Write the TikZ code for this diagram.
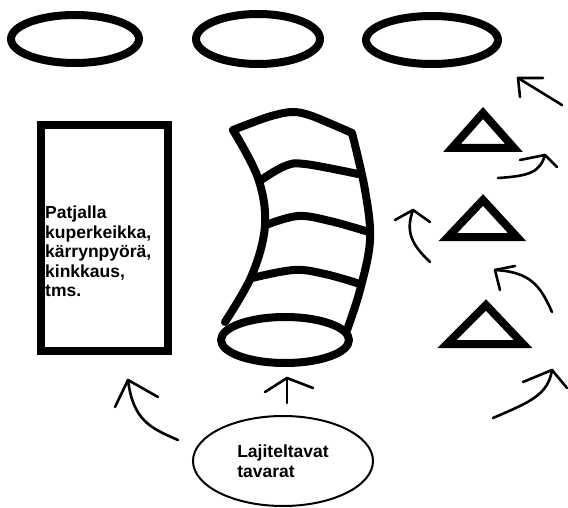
\documentclass[tikz,border=0pt]{standalone}
\usepackage{fontspec}
\setmainfont{Liberation Sans}
\usetikzlibrary{shapes.geometric}
\begin{document}
\begin{tikzpicture}[x=1pt,y=-1pt,
  heavy/.style={line width=8pt, line join=round, line cap=round},
  oval/.style={draw, ellipse, heavy, inner sep=0pt},
  pen/.style={line width=2.6pt, line cap=round, line join=round},
  tri/.style={line width=8pt, line join=miter},
  label/.style={font=\fontsize{17.5}{19.5}\selectfont\bfseries, align=left, inner sep=0pt}]
\useasboundingbox (0,0) rectangle (568,508);

% top row of stations
\node[oval, minimum width=128pt, minimum height=48pt] (e1) at (75,39) {};
\node[oval, minimum width=124pt, minimum height=50pt] (e2) at (258,39) {};
\node[oval, minimum width=132pt, minimum height=48pt] (e3) at (432,40) {};

% mattress
\node[draw, heavy, line join=miter, minimum width=127pt, minimum height=226pt, inner sep=0pt] (mat) at (104.5,238) {};
\node[label, anchor=north west] (mattxt) at (45,206) {Patjalla\\kuperkeikka,\\kärrynpyörä,\\kinkkaus,\\tms.};

% tunnel
\node[oval, minimum width=128pt, minimum height=46pt] (mouth) at (285,340) {};
\draw[heavy] plot[smooth, tension=0.6] coordinates {(225,322) (252,275) (265,225) (258,178) (233,130)};
\draw[heavy] plot[smooth, tension=0.5] coordinates {(233,130) (268,117) (292,112) (312,116) (352,133)};
\draw[heavy] plot[smooth, tension=0.6] coordinates {(352,133) (365,190) (370,240) (360,290) (347,330)};
\draw[heavy] plot[smooth, tension=0.6] coordinates {(261,180) (285,166) (305,164) (358,174)};
\draw[heavy] plot[smooth, tension=0.6] coordinates {(266,225) (298,216) (330,221) (369,232)};
\draw[heavy] plot[smooth, tension=0.6] coordinates {(252,278) (294,270) (325,274) (360,284)};

% cones
\draw[tri] (483,113) -- (514,148) -- (452,148) -- cycle;
\draw[tri] (483,200) -- (517,237) -- (448,237) -- cycle;
\draw[tri] (486,305) -- (523,344) -- (447,344) -- cycle;

% start
\node[draw, ellipse, line width=2pt, minimum width=180pt, minimum height=90pt, label] (start) at (283,461) {Lajiteltavat\\tavarat};

% hand-drawn arrows
\coordinate (s1) at (178,440); \coordinate (t1) at (128,380);
\draw[pen] (s1) .. controls (150,428) and (133,420) .. (t1);
\draw[pen] (115,407) -- (t1) -- (158,397);

\coordinate (s2) at (287,403); \coordinate (t2) at (287,378);
\draw[pen] (s2) -- (t2);
\draw[pen] (265,392) -- (t2) -- (313,388);

\coordinate (s3) at (493,418); \coordinate (t3) at (552,370);
\draw[pen] (s3) .. controls (530,402) and (548,395) .. (t3);
\draw[pen] (523,382) -- (t3) -- (567,388);

\coordinate (s4) at (552,312); \coordinate (t4) at (495,270);
\draw[pen] (s4) .. controls (540,285) and (530,272) .. (t4);
\draw[pen] (500,290) -- (t4) -- (515,266);

\coordinate (s5) at (430,262); \coordinate (t5) at (413,210);
\draw[pen] (s5) .. controls (412,245) and (405,232) .. (t5);
\draw[pen] (395,220) -- (t5) -- (430,222);

\coordinate (s6) at (498,178); \coordinate (t6) at (545,155);
\draw[pen] (s6) .. controls (530,176) and (540,172) .. (t6);
\draw[pen] (520,160) -- (t6) -- (557,167);

\coordinate (s7) at (562,105); \coordinate (t7) at (518,78);
\draw[pen] (s7) -- (t7);
\draw[pen] (543,78) -- (t7) -- (520,97);
\end{tikzpicture}
\end{document}
